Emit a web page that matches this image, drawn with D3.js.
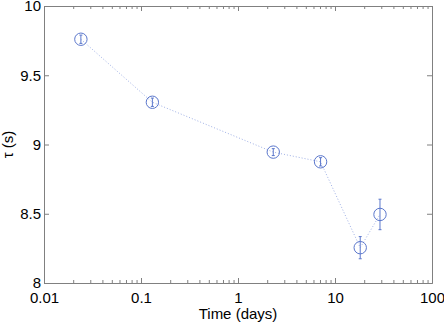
<!DOCTYPE html>
<html>
<head>
<meta charset="utf-8">
<script src="https://cdn.jsdelivr.net/npm/d3@7"></script>
<style>
  body { margin: 0; background: #fff; }
  text { font-family: "Liberation Sans", Arial, sans-serif; }
  .axis path, .axis line { stroke: #808080; }
  .axis text { fill: #000; font-size: 15px; }
</style>
</head>
<body>
<script>
const days = [0.024, 0.131, 2.31, 7.1, 18.2, 29.1];
const tau = [9.76, 9.305, 8.945, 8.875, 8.255, 8.495];
const tauErr = [0.03, 0.03, 0.025, 0.03, 0.08, 0.11];
const xTicks = [0.01, 0.1, 1, 10, 100];
const yTicks = [8, 8.5, 9, 9.5, 10];

const width = 444, height = 322;
const margin = { top: 6, right: 12, bottom: 39, left: 44 };
const w = width - margin.left - margin.right;
const h = height - margin.top - margin.bottom;

const svg = d3.select('body').append('svg')
  .attr('width', width)
  .attr('height', height);

const g = svg.append('g')
  .attr('transform', `translate(${margin.left},${margin.top})`);

const x = d3.scaleLog().domain([0.01, 100]).range([0, w]);
const y = d3.scaleLinear().domain([8, 10]).range([h, 0]);

// minor log ticks
const minor = [];
for (let e = -2; e < 2; e++) {
  for (let k = 2; k <= 9; k++) minor.push(k * Math.pow(10, e));
}

const fmt = d => String(d);

// bottom axis
g.append('g').attr('class', 'axis')
  .attr('transform', `translate(0,${h})`)
  .call(d3.axisBottom(x).tickValues(xTicks).tickFormat(fmt).tickSizeInner(-5).tickSizeOuter(0).tickPadding(9));
g.append('g').attr('class', 'axis')
  .attr('transform', `translate(0,${h})`)
  .call(d3.axisBottom(x).tickValues(minor).tickFormat('').tickSizeInner(-3).tickSizeOuter(0));

// top axis
g.append('g').attr('class', 'axis')
  .call(d3.axisTop(x).tickValues(xTicks).tickFormat('').tickSizeInner(-5).tickSizeOuter(0));
g.append('g').attr('class', 'axis')
  .call(d3.axisTop(x).tickValues(minor).tickFormat('').tickSizeInner(-3).tickSizeOuter(0));

// left / right axes
g.append('g').attr('class', 'axis')
  .call(d3.axisLeft(y).tickValues(yTicks).tickFormat(fmt).tickSizeInner(-5).tickSizeOuter(0).tickPadding(3));
g.append('g').attr('class', 'axis')
  .attr('transform', `translate(${w},0)`)
  .call(d3.axisRight(y).tickValues(yTicks).tickFormat('').tickSizeInner(-5).tickSizeOuter(0));

const pts = days.map((d, i) => ({ x: d, y: tau[i], e: tauErr[i] }));

// dotted connecting line
g.append('path')
  .datum(pts)
  .attr('fill', 'none')
  .attr('stroke', '#9fb0e6')
  .attr('stroke-width', 1)
  .attr('stroke-dasharray', '1,2')
  .attr('d', d3.line().x(d => x(d.x)).y(d => y(d.y)));

const col = '#5b77cc';

// error bars
const eb = g.selectAll('.eb').data(pts).enter().append('g');
eb.append('line')
  .attr('x1', d => x(d.x)).attr('x2', d => x(d.x))
  .attr('y1', d => y(d.y - d.e)).attr('y2', d => y(d.y + d.e))
  .attr('stroke', col);
eb.append('line')
  .attr('x1', d => x(d.x) - 1.5).attr('x2', d => x(d.x) + 1.5)
  .attr('y1', d => y(d.y - d.e)).attr('y2', d => y(d.y - d.e))
  .attr('stroke', col);
eb.append('line')
  .attr('x1', d => x(d.x) - 1.5).attr('x2', d => x(d.x) + 1.5)
  .attr('y1', d => y(d.y + d.e)).attr('y2', d => y(d.y + d.e))
  .attr('stroke', col);

// markers
g.selectAll('.pt').data(pts).enter().append('circle')
  .attr('cx', d => x(d.x))
  .attr('cy', d => y(d.y))
  .attr('r', 6.2)
  .attr('fill', 'none')
  .attr('stroke', col)
  .attr('stroke-width', 1);

// labels
svg.append('text')
  .attr('x', margin.left + w / 2)
  .attr('y', 319)
  .attr('text-anchor', 'middle')
  .style('font-size', '15px')
  .text('Time (days)');

svg.append('text')
  .attr('transform', `translate(13,${margin.top + h / 2}) rotate(-90)`)
  .attr('text-anchor', 'middle')
  .style('font-size', '15px')
  .text('τ (s)');
</script>
</body>
</html>
